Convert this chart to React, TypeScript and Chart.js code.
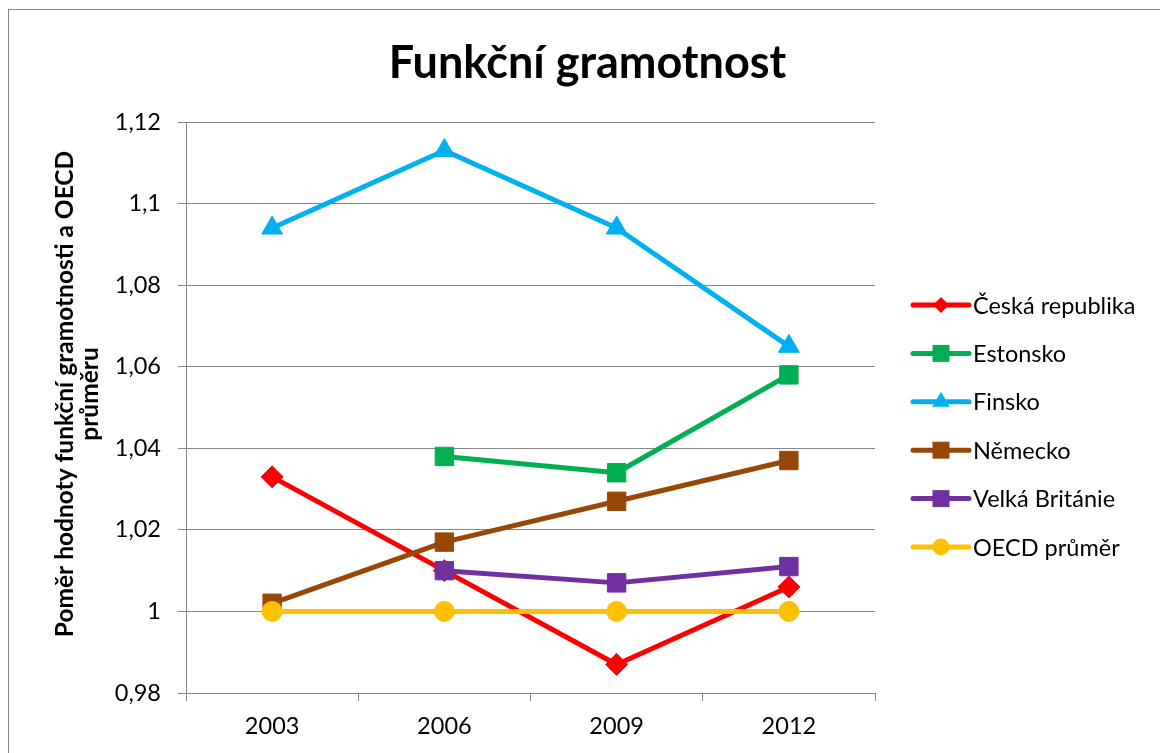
import React, { useEffect, useRef } from 'react';
import { Chart, registerables } from 'chart.js';

Chart.register(...registerables);

const chartTitle = 'Funkční gramotnost';
const yAxisTitle = ['Poměr hodnoty funkční gramotnosti a OECD', 'průměru'];
const years = ['2003', '2006', '2009', '2012'];

const ceskaRepublika = [1.033, 1.010, 0.987, 1.006];
const estonsko = [null, 1.038, 1.034, 1.058];
const finsko = [1.094, 1.113, 1.094, 1.065];
const nemecko = [1.002, 1.017, 1.027, 1.037];
const velkaBritanie = [null, 1.010, 1.007, 1.011];
const oecdPrumer = [1, 1, 1, 1];

const seriesNames = ['Česká republika', 'Estonsko', 'Finsko', 'Německo', 'Velká Británie', 'OECD průměr'];
const seriesColors = ['#FF0000', '#00B050', '#00B0F0', '#974706', '#7030A0', '#FFC000'];
const seriesStyles = ['rectRot', 'rect', 'triangle', 'rect', 'rect', 'circle'];
const seriesRadius = [11, 13, 12, 13, 13, 10];
const legendRadius = [8, 12, 10, 12, 12, 8.5];

const yMin = 0.98;
const yMax = 1.12;
const yStep = 0.02;

const FONT = 'Lato, "Open Sans", sans-serif';
const GRID = '#868686';
const TEXT_SIZE = 23.5;

function drawMarker(ctx: CanvasRenderingContext2D, style: string, x: number, y: number, r: number) {
  ctx.beginPath();
  if (style === 'circle') {
    ctx.arc(x, y, r, 0, Math.PI * 2);
  } else if (style === 'rect') {
    const s = Math.SQRT1_2 * r;
    ctx.rect(x - s, y - s, 2 * s, 2 * s);
  } else if (style === 'rectRot') {
    ctx.moveTo(x, y - r);
    ctx.lineTo(x + r, y);
    ctx.lineTo(x, y + r);
    ctx.lineTo(x - r, y);
    ctx.closePath();
  } else if (style === 'triangle') {
    let rad = 0;
    ctx.moveTo(x + Math.sin(rad) * r, y - Math.cos(rad) * r);
    rad += (Math.PI * 2) / 3;
    ctx.lineTo(x + Math.sin(rad) * r, y - Math.cos(rad) * r);
    rad += (Math.PI * 2) / 3;
    ctx.lineTo(x + Math.sin(rad) * r, y - Math.cos(rad) * r);
    ctx.closePath();
  }
  ctx.fill();
}

const decorPlugin = {
  id: 'decor',
  afterDraw(chart: any) {
    const ctx: CanvasRenderingContext2D = chart.ctx;
    const a = chart.chartArea;
    ctx.save();
    // Title
    ctx.fillStyle = '#000';
    ctx.font = `bold 45px ${FONT}`;
    ctx.textAlign = 'center';
    ctx.textBaseline = 'alphabetic';
    ctx.fillText(chartTitle, chart.width / 2 + 3, a.top - 44);

    // Y axis title
    ctx.save();
    ctx.translate(56, 384);
    ctx.rotate(-Math.PI / 2);
    ctx.font = `bold 24.5px ${FONT}`;
    ctx.textBaseline = 'middle';
    ctx.textAlign = 'center';
    yAxisTitle.forEach((line, i) => {
      ctx.fillText(line, 0, i * 25);
    });
    ctx.restore();

    // Legend
    const lx0 = a.right + 38;
    const lx1 = a.right + 94;
    const tx = a.right + 98;
    const y0 = a.top + 183;
    const step = 48.4;
    ctx.font = `${TEXT_SIZE}px ${FONT}`;
    ctx.textAlign = 'left';
    ctx.textBaseline = 'middle';
    seriesNames.forEach((name, i) => {
      const y = y0 + i * step;
      ctx.strokeStyle = seriesColors[i];
      ctx.fillStyle = seriesColors[i];
      ctx.lineWidth = 5;
      ctx.lineCap = 'round';
      ctx.beginPath();
      ctx.moveTo(lx0, y);
      ctx.lineTo(lx1, y);
      ctx.stroke();
      drawMarker(ctx, seriesStyles[i], (lx0 + lx1) / 2, y, legendRadius[i]);
      ctx.fillStyle = '#000';
      ctx.fillText(name, tx, y + 1);
    });
    ctx.restore();
  },
};

export default function App() {
  const canvasRef = useRef<HTMLCanvasElement>(null);

  useEffect(() => {
    const canvas = canvasRef.current;
    if (!canvas) return;
    const values = [ceskaRepublika, estonsko, finsko, nemecko, velkaBritanie, oecdPrumer];
    const datasets = values.map((d, i) => ({
      label: seriesNames[i],
      data: d,
      borderColor: seriesColors[i],
      backgroundColor: seriesColors[i],
      borderWidth: 5,
      borderCapStyle: 'round',
      borderJoinStyle: 'round',
      pointStyle: seriesStyles[i],
      pointRadius: seriesRadius[i],
      pointHoverRadius: seriesRadius[i],
      pointBorderWidth: 1,
      pointBorderColor: seriesColors[i],
      pointBackgroundColor: seriesColors[i],
      spanGaps: false,
      order: values.length - i,
      clip: false,
    }));

    const chart = new Chart(canvas, {
      type: 'line',
      data: { labels: years, datasets: datasets as any },
      options: {
        responsive: false,
        animation: false,
        events: [],
        layout: { padding: { top: 112, right: 285, bottom: 0, left: 0 } },
        plugins: {
          legend: { display: false },
          title: { display: false },
          tooltip: { enabled: false },
        },
        scales: {
          x: {
            type: 'category',
            offset: true,
            grid: {
              offset: true,
              drawOnChartArea: false,
              drawTicks: true,
              tickLength: 8,
              color: GRID,
            },
            border: { display: true, color: GRID, width: 1 },
            ticks: {
              color: '#000',
              font: { family: FONT, size: TEXT_SIZE },
              padding: 11,
              maxRotation: 0,
            },
            afterFit: (scale: any) => {
              scale.height = 60;
            },
          },
          y: {
            type: 'linear',
            min: yMin,
            max: yMax,
            grid: { color: GRID, tickLength: 8, lineWidth: 1 },
            border: { display: true, color: GRID, width: 1 },
            ticks: {
              stepSize: yStep,
              color: '#000',
              padding: 17,
              font: { family: FONT, size: TEXT_SIZE },
              callback: (v: any) => String(Math.round(Number(v) * 100) / 100).replace('.', ','),
            },
            afterFit: (scale: any) => {
              scale.width = 177;
            },
          },
        },
      },
      plugins: [decorPlugin],
    });
    return () => chart.destroy();
  }, []);

  return (
    <div
      style={{
        position: 'fixed',
        left: 8,
        top: 9,
        width: 1151,
        height: 743,
        borderLeft: '1px solid #878787',
        borderTop: '1px solid #878787',
        background: '#fff',
      }}
    >
      <canvas ref={canvasRef} width={1151} height={743} style={{ display: 'block' }} />
    </div>
  );
}
